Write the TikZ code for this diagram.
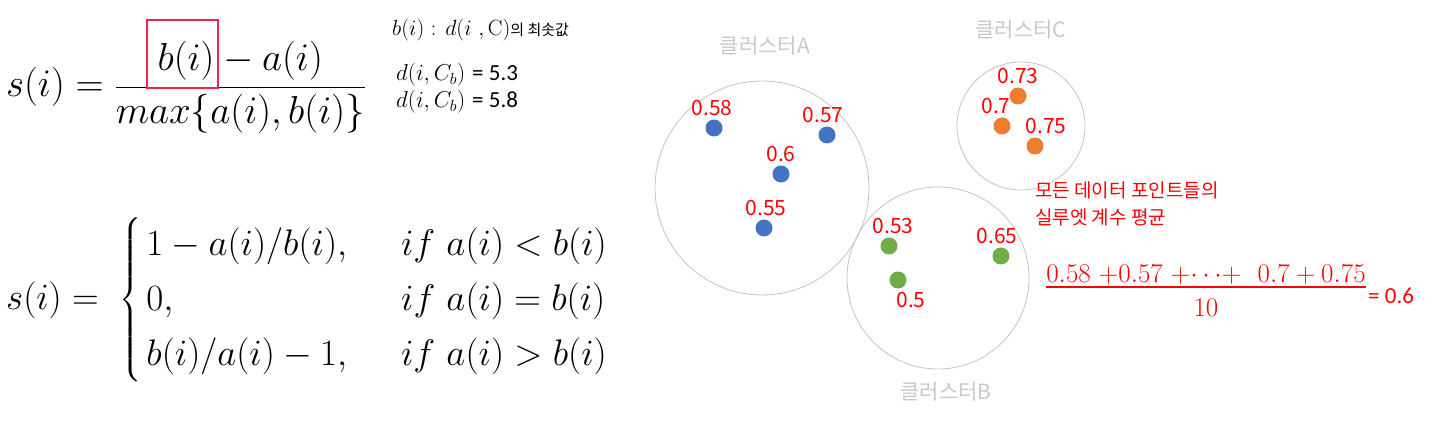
\RequirePackage{fix-cm}
\documentclass[tikz,border=0pt]{standalone}
\usepackage{amsmath}
\usepackage{fontspec}
\newfontfamily\krfont{Noto Sans CJK KR}
\newfontfamily\calfont{Carlito}
\usepackage{xcolor}
\usetikzlibrary{positioning}
\definecolor{ptblue}{RGB}{68,114,196}
\definecolor{ptorange}{RGB}{237,125,49}
\definecolor{ptgreen}{RGB}{112,173,71}
\definecolor{boxred}{RGB}{232,38,78}
\definecolor{ringgray}{RGB}{195,195,195}
\definecolor{namegray}{RGB}{200,200,200}

\begin{document}
\begin{tikzpicture}[x=1pt,y=-1pt,node distance=3pt]
\tikzstyle{bigmath}=[inner sep=0pt,font=\fontsize{37}{46}\selectfont]
\tikzstyle{note}=[inner sep=0pt,anchor=base west,font=\fontsize{23}{26}\selectfont]
\tikzstyle{cluster}=[circle,draw=ringgray,line width=0.8pt,inner sep=0pt]
\tikzstyle{dot}=[circle,minimum size=17pt,inner sep=0pt]
\tikzstyle{val}=[text=red,inner sep=0pt,font=\krfont\fontsize{21}{24}\selectfont]
\tikzstyle{clname}=[text=namegray,inner sep=0pt,font=\krfont\fontsize{21}{24}\selectfont]
\useasboundingbox (0,0) rectangle (1438,422);
% formulas
\node[bigmath,anchor=base west,font=\fontsize{39}{48}\selectfont] (sfrac) at (6,97) {$s(i)=\dfrac{b(i)-a(i)}{max\{a(i),b(i)\}}$};
\node[draw=boxred,line width=2.5pt,minimum width=71pt,minimum height=68pt] (bbox) at (182.5,54) {};
\node[bigmath,anchor=base west] (scases) at (6,309) {\renewcommand\arraystretch{1.2}$s(i)=\;\left\{\begin{array}{@{\hspace{5pt}}l@{\hspace{54pt}}l}1-a(i)/b(i), & if\ a(i)<b(i)\\ 0, & if\ a(i)=b(i)\\ b(i)/a(i)-1, & if\ a(i)>b(i)\end{array}\right.$};
\node[note,font=\fontsize{22}{26}\selectfont] (bdef) at (392,36) {$b(i)$ : $d(i\ ,\mathrm{C})${\krfont\fontsize{15}{18}\selectfont 의 최솟값}};
\node[note] (dist1) at (396,81) {$d(i,C_b)$ {\calfont = 5.3}};
\node[note] (dist2) at (396,108) {$d(i,C_b)$ {\calfont = 5.8}};
% clusters
\node[cluster,minimum size=214pt] (cA) at (762,188) {};
\node[cluster,minimum size=128pt] (cC) at (1021,126) {};
\node[cluster,minimum size=182pt] (cB) at (938,278) {};
\node[clname] (nA) at (765,46) {클러스터A};
\node[clname] (nC) at (1021,30) {클러스터C};
\node[clname] (nB) at (946,392) {클러스터B};
\node[dot,fill=ptblue] (a1) at (714,128) {};
\node[dot,fill=ptblue] (a2) at (827,135) {};
\node[dot,fill=ptblue] (a3) at (781,174) {};
\node[dot,fill=ptblue] (a4) at (764,228) {};
\node[dot,fill=ptorange] (c1) at (1018,96) {};
\node[dot,fill=ptorange] (c2) at (1002,126) {};
\node[dot,fill=ptorange] (c3) at (1035,146) {};
\node[dot,fill=ptgreen] (b1) at (889,246) {};
\node[dot,fill=ptgreen] (b2) at (1001,256) {};
\node[dot,fill=ptgreen] (b3) at (898,280) {};
\node[val,above=of a1,xshift=-2pt] (va1) {0.58};
\node[val,above=of a2,xshift=-4pt] (va2) {0.57};
\node[val,above=of a3] (va3) {0.6};
\node[val,above=of a4,xshift=2pt] (va4) {0.55};
\node[val,above=of c1] (vc1) {0.73};
\node[val,above=of c2,xshift=-6pt] (vc2) {0.7};
\node[val,above=of c3,xshift=11pt] (vc3) {0.75};
\node[val,above=of b1,xshift=4pt] (vb1) {0.53};
\node[val,above=of b2,xshift=-4pt] (vb2) {0.65};
\node[val,below=of b3,xshift=13pt] (vb3) {0.5};
% average
\node[val,anchor=north west,align=left,font=\krfont\fontsize{19}{27}\selectfont] (avgtxt) at (1035,182) {모든 데이터 포인트들의\\실루엣 계수 평균};
\node[inner sep=0pt,anchor=base,text=red,font=\fontsize{27}{30}\selectfont] (avgnum) at (1206,283) {$0.58\ {+}0.57\ {+}{\cdots}{+}\ \ 0.7+0.75$};
\node[inner sep=0pt,anchor=base,text=red,font=\fontsize{27}{30}\selectfont] (avgden) at (1206,316) {$10$};
\draw[red,line width=2pt] ([yshift=-4pt]avgnum.base west) -- ([yshift=-4pt]avgnum.base east);
\node[inner sep=0pt,anchor=west,text=red,font=\calfont\fontsize{23}{26}\selectfont] (avgres) at (1368,296) {= 0.6};
\end{tikzpicture}
\end{document}
